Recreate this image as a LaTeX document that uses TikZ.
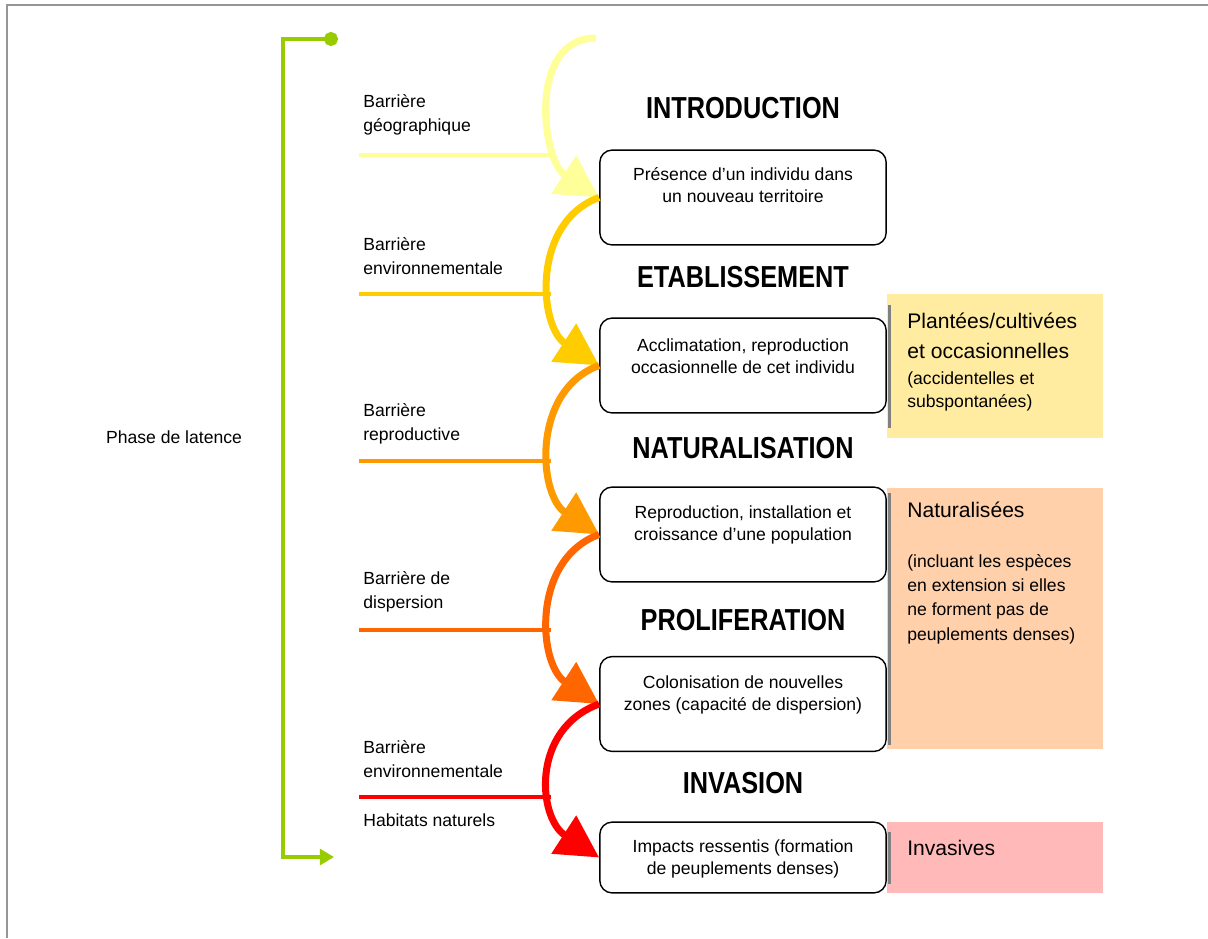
\documentclass[tikz,border=0pt]{standalone}
\usepackage{fontspec}
\setmainfont{Liberation Sans}
\usepackage{graphicx}
\usetikzlibrary{positioning}
\usetikzlibrary{arrows.meta}

\definecolor{paleyellow}{RGB}{255,255,153}
\definecolor{gold}{RGB}{255,204,0}
\definecolor{orangeA}{RGB}{255,153,0}
\definecolor{orangeB}{RGB}{255,102,0}
\definecolor{redA}{RGB}{255,0,0}
\definecolor{latgreen}{RGB}{153,204,0}
\definecolor{framegrey}{RGB}{150,150,150}
\definecolor{bargrey}{RGB}{128,128,128}
\definecolor{fillyellow}{RGB}{255,236,160}
\definecolor{fillorange}{RGB}{255,208,170}
\definecolor{fillred}{RGB}{255,185,185}

\newcommand\tallcaps[1]{\scalebox{1}[1.2]{#1}}

\tikzset{
  stage/.style = {draw, fill=white, rounded corners=7pt, line width=0.8pt,
    minimum width=163pt, minimum height=54pt, inner sep=0pt},
  stagetext/.style = {align=center, font=\fontsize{10}{12.5}\selectfont, inner sep=0pt},
  phase/.style = {font=\fontsize{14.4}{17}\selectfont\bfseries, inner sep=0pt},
  barrier/.style = {line width=2.3pt},
  barrierlabel/.style = {anchor=west, align=left, inner sep=0pt,
    font=\fontsize{10}{13.6}\selectfont},
  flow/.style = {line width=4pt, -{Triangle[length=24pt, width=25pt]}},
  legend/.style = {minimum width=122.5pt, inner sep=0pt},
  legendhead/.style = {anchor=west, align=left, inner sep=0pt,
    font=\fontsize{12}{17}\selectfont},
  legendnote/.style = {anchor=west, align=left, inner sep=0pt}
}

\begin{document}
\begin{tikzpicture}[x=0.02cm, y=-0.02cm]
  \useasboundingbox (0,0) rectangle (1208,938);
  \draw [framegrey, line width=1.1pt] (7,938) -- (7,5) -- (1208,5);

  % phase de latence
  \coordinate (latTop) at (338,39);
  \coordinate (latCorner1) at (283,39);
  \coordinate (latCorner2) at (283,857);
  \coordinate (latBot) at (334,857);
  \draw [latgreen, line width=1.9pt, {Circle[length=8pt]}-{Triangle[length=8pt, width=9pt]}]
    (latTop) -- (latCorner1) -- (latCorner2) -- (latBot);
  \node [inner sep=0pt, font=\fontsize{10}{12}\selectfont] (latence) at (174,437) {Phase de latence};

  % legend boxes
  \node [legend, fill=fillyellow, minimum height=81.6pt] (plantees) at (995,366) {};
  \node [legend, fill=fillorange, minimum height=149pt] (naturalisees) at (995,618.5) {};
  \node [legend, fill=fillred, minimum height=40.3pt] (invasives) at (995,857.5) {};
  \draw [bargrey, line width=1.7pt] (889.5,305) -- (889.5,428);
  \draw [bargrey, line width=1.7pt] (889.5,493) -- (889.5,745);
  \draw [bargrey, line width=1.7pt] (889.5,832) -- (889.5,884);

  \node [legendhead] (planteesh) at (907,336) {Plantées/cultivées\\et occasionnelles};
  \node [legendnote, font=\fontsize{10}{13}\selectfont] (planteesn) at (907,391.5)
    {(accidentelles et\\subspontanées)};
  \node [legendhead] (naturaliseesh) at (907,510) {Naturalisées};
  \node [legendnote, font=\fontsize{10}{13.9}\selectfont] (naturaliseesn) at (907,599)
    {(incluant les espèces\\en extension si elles\\ne forment pas de\\peuplements denses)};
  \node [legendhead] (invasivesh) at (907,848) {Invasives};

  % barrieres
  \coordinate (geoL) at (359,155);   \coordinate (geoR) at (553,155);
  \coordinate (envL) at (359,294);   \coordinate (envR) at (551,294);
  \coordinate (repL) at (359,461);   \coordinate (repR) at (551,461);
  \coordinate (disL) at (359,630);   \coordinate (disR) at (551,630);
  \coordinate (habL) at (359,797);   \coordinate (habR) at (551,797);
  \draw [barrier, paleyellow] (geoL) -- (geoR);
  \draw [barrier, gold] (envL) -- (envR);
  \draw [barrier, orangeA] (repL) -- (repR);
  \draw [barrier, orangeB] (disL) -- (disR);
  \draw [barrier, redA] (habL) -- (habR);

  \node [barrierlabel] (geolabel) at (363,115) {Barrière\\géographique};
  \node [barrierlabel] (envlabel) at (363,256) {Barrière\\environnementale};
  \node [barrierlabel] (replabel) at (363,424) {Barrière\\reproductive};
  \node [barrierlabel] (dislabel) at (363,592) {Barrière de\\dispersion};
  \node [barrierlabel] (envlabel2) at (363,759) {Barrière\\environnementale};
  \node [barrierlabel] (hablabel) at (363,820) {Habitats naturels};

  % etapes
  \node [phase] (introh) at (743,108) {\tallcaps{INTRODUCTION}};
  \node [phase] (etabh) at (743,277) {\tallcaps{ETABLISSEMENT}};
  \node [phase] (naturh) at (743,448) {\tallcaps{NATURALISATION}};
  \node [phase] (prolih) at (743,620) {\tallcaps{PROLIFERATION}};
  \node [phase] (invah) at (743,783) {\tallcaps{INVASION}};

  \node [stage] (intro) at (743,197.5) {};
  \node [stage] (etab) at (743,365.5) {};
  \node [stage] (natur) at (743,534.5) {};
  \node [stage] (proli) at (743,704) {};
  \node [stage, minimum height=40.3pt] (inva) at (743,857.5) {};

  \node [stagetext] (introtxt) at (743,185) {Présence d’un individu dans\\un nouveau territoire};
  \node [stagetext] (etabtxt) at (743,356) {Acclimatation, reproduction\\occasionnelle de cet individu};
  \node [stagetext] (naturtxt) at (743,525) {Reproduction, installation et\\croissance d’une population};
  \node [stagetext] (prolitxt) at (743,695) {Colonisation de nouvelles\\zones (capacité de dispersion)};
  \node [stagetext] (invatxt) at (743,859) {Impacts ressentis (formation\\de peuplements denses)};

  % fleches
  \coordinate (start) at (596,38);
  \draw [flow, paleyellow] (start) to [out=180, in=147, looseness=1.1] (intro.west);
  \draw [flow, gold] (intro.west) to [out=200, in=147, looseness=1.1] (etab.west);
  \draw [flow, orangeA] (etab.west) to [out=200, in=147, looseness=1.1] (natur.west);
  \draw [flow, orangeB] (natur.west) to [out=200, in=147, looseness=1.1] (proli.west);
  \draw [flow, redA] (proli.west) to [out=200, in=147, looseness=1.22] (inva.west);
\end{tikzpicture}
\end{document}
